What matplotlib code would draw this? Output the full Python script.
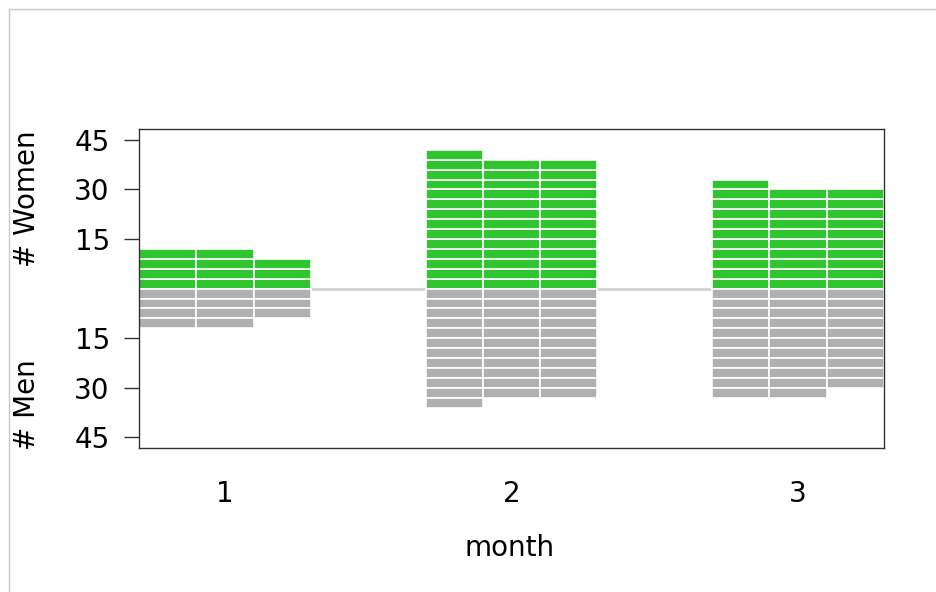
import matplotlib
matplotlib.use("Agg")
import matplotlib.pyplot as plt
from matplotlib.lines import Line2D
import numpy as np

months = ["1", "2", "3"]
women = [[12, 12, 9], [42, 39, 39], [33, 30, 30]]
men = [[12, 12, 9], [36, 33, 33], [33, 33, 30]]
block = 3
ytick_vals = [45, 30, 15, -15, -30, -45]
ytick_labels = ["45", "30", "15", "15", "30", "45"]

green = "#2ec52e"
grey = "#b0b0b0"

plt.rcParams["font.family"] = ["DejaVu Sans"]
FS = 20

fig = plt.figure(figsize=(9.36, 5.92), dpi=100)
ax = fig.add_axes([139 / 936, 1 - 448 / 592, (884 - 139) / 936, (448 - 129) / 592])

gap = 2
nsub = 3
for m, (wv, mv) in enumerate(zip(women, men)):
    for s in range(nsub):
        x = m * (nsub + gap) + s
        nw = int(round(wv[s] / block))
        nm = int(round(mv[s] / block))
        ax.bar([x] * nw, [block] * nw, bottom=np.arange(nw) * block, width=1.0,
               color=green, edgecolor="white", linewidth=1.2, zorder=2)
        ax.bar([x] * nm, [-block] * nm, bottom=-np.arange(nm) * block, width=1.0,
               color=grey, edgecolor="white", linewidth=1.2, zorder=2)

ax.axhline(0, color="#d3d3d3", lw=2, zorder=1)

ax.set_xlim(-0.5, len(months) * (nsub + gap) - gap - 0.5)
ax.set_ylim(-48.2, 48.3)
ax.set_xticks([m * (nsub + gap) + 1 for m in range(len(months))])
ax.set_xticklabels(months, fontsize=FS)
ax.tick_params(axis="x", length=0, pad=23)
ax.set_yticks(ytick_vals)
ax.set_yticklabels(ytick_labels, fontsize=FS)
ax.tick_params(axis="y", length=11, width=1, pad=10, color="#333333")
for sp in ax.spines.values():
    sp.set_linewidth(1.0)
    sp.set_color("#333333")

fig.text(510 / 936, 1 - 548 / 592, "month", fontsize=FS, ha="center", va="center")
fig.text(27 / 936, 1 - 199 / 592, "# Women", fontsize=FS, ha="center", va="center", rotation=90)
fig.text(27 / 936, 1 - 405 / 592, "# Men", fontsize=FS, ha="center", va="center", rotation=90)

fig.add_artist(Line2D([9 / 936, 1], [1 - 9 / 592, 1 - 9 / 592], transform=fig.transFigure, color="#c8c8c8", lw=1))
fig.add_artist(Line2D([9 / 936, 9 / 936], [0, 1 - 9 / 592], transform=fig.transFigure, color="#c8c8c8", lw=1))

fig.savefig("out.png", dpi=100)
